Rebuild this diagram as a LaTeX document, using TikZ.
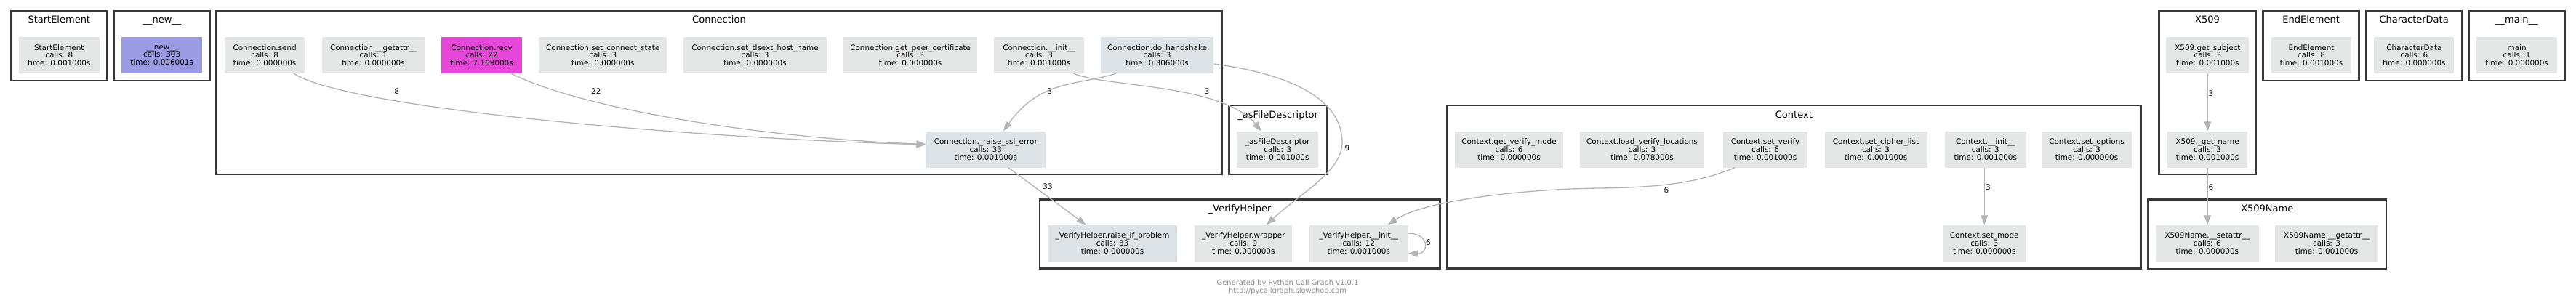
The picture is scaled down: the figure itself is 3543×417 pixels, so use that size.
\documentclass[tikz,border=0pt]{standalone}
\usepackage{fontspec}
\setmainfont{DejaVu Sans}
\usetikzlibrary{arrows.meta,calc}
\definecolor{nodegray}{HTML}{E5E6E6}
\definecolor{nodeblue}{HTML}{DDE3E6}
\definecolor{hotpink}{HTML}{E647D9}
\definecolor{lavender}{HTML}{9B9BE3}
\definecolor{clborder}{HTML}{383838}
\definecolor{edgegray}{HTML}{B3B3B3}
\definecolor{footgray}{HTML}{8C8C8C}
\newcommand\mynodefont{\fontsize{10.4}{10.8}\selectfont}
\newcommand\mytitlefont{\fontsize{13}{15}\selectfont}
\newcommand\myfootfont{\fontsize{9.9}{11.4}\selectfont}
\begin{document}
\begin{tikzpicture}[x=1pt,y=-1pt,
  fn/.style={draw=none,fill=nodegray,inner sep=0pt,align=center,font=\mynodefont,minimum height=50pt},
  cl/.style={draw=clborder,line width=2.6pt,inner sep=0pt},
  cltitle/.style={anchor=base,font=\mytitlefont,inner sep=0pt},
  edge/.style={draw=edgegray,line width=1.3pt,-{Triangle[length=13pt,width=9.5pt,fill=edgegray]}},
  elabel/.style={font=\mynodefont,inner sep=0pt}]
\useasboundingbox (0,0) rectangle (3543,417);
\fill[white] (0,0) rectangle (3543,417);

% clusters
\node[cl,minimum width=132pt,minimum height=96pt] (cstart) at (81.3,63) {};
\node[cltitle] (tstart) at (81.3,32) {StartElement};
\node[cl,minimum width=132pt,minimum height=96pt] (cnew) at (223,63) {};
\node[cltitle] (tnew) at (223,32) {\_\_new\_\_};
\node[cl,minimum width=1382.6pt,minimum height=225pt] (cconn) at (989,127.5) {};
\node[cltitle] (tconn) at (989,32) {Connection};
\node[cl,minimum width=135pt,minimum height=95pt] (casfd) at (1757.7,192.5) {};
\node[cltitle] (tasfd) at (1757.7,162) {\_asFileDescriptor};
\node[cl,minimum width=550.3pt,minimum height=95pt] (cvh) at (1705.15,321.8) {};
\node[cltitle] (tvh) at (1705.15,291.3) {\_VerifyHelper};
\node[cl,minimum width=953.7pt,minimum height=224.5pt] (cctx) at (2467.35,257.25) {};
\node[cltitle] (tctx) at (2467.35,162) {Context};
\node[cl,minimum width=133.6pt,minimum height=225pt] (cx509) at (3036,127.5) {};
\node[cltitle] (tx509) at (3036,32) {X509};
\node[cl,minimum width=132.3pt,minimum height=96pt] (cend) at (3178.55,63) {};
\node[cltitle] (tend) at (3178.55,32) {EndElement};
\node[cl,minimum width=131.8pt,minimum height=96pt] (cchar) at (3320.1,63) {};
\node[cltitle] (tchar) at (3320.1,32) {CharacterData};
\node[cl,minimum width=131.7pt,minimum height=96pt] (cmain) at (3461.35,63) {};
\node[cltitle] (tmain) at (3461.35,32) {\_\_main\_\_};
\node[cl,minimum width=327.5pt,minimum height=95.7pt] (cxn) at (3118.25,322.15) {};
\node[cltitle] (txn) at (3118.25,291.3) {X509Name};

% top row
\node[fn,minimum width=110.6pt] (startel) at (81.3,76) {StartElement\\calls: 8\\time: 0.001000s};
\node[fn,fill=lavender,minimum width=111pt] (newn) at (222.7,76) {\_\_new\_\_\\calls: 303\\time: 0.006001s};
\node[fn,minimum width=110pt] (send) at (364.2,76) {Connection.send\\calls: 8\\time: 0.000000s};
\node[fn,minimum width=140.5pt] (cgetattr) at (513.5,76) {Connection.\_\_getattr\_\_\\calls: 1\\time: 0.000000s};
\node[fn,fill=hotpink,minimum width=110.2pt] (recv) at (662.5,76) {Connection.recv\\calls: 22\\time: 7.169000s};
\node[fn,minimum width=176.2pt] (setconn) at (829.3,76) {Connection.set\_connect\_state\\calls: 3\\time: 0.000000s};
\node[fn,minimum width=196.4pt] (settls) at (1038.5,76) {Connection.set\_tlsext\_host\_name\\calls: 3\\time: 0.000000s};
\node[fn,minimum width=183.5pt] (getpeer) at (1252.2,76) {Connection.get\_peer\_certificate\\calls: 3\\time: 0.000000s};
\node[fn,minimum width=123.5pt] (cinit) at (1429,76) {Connection.\_\_init\_\_\\calls: 3\\time: 0.001000s};
\node[fn,fill=nodeblue,minimum width=155.6pt] (handshake) at (1591.6,76) {Connection.do\_handshake\\calls: 3\\time: 0.306000s};
\node[fn,minimum width=114pt] (getsubj) at (3036.4,76) {X509.get\_subject\\calls: 3\\time: 0.001000s};
\node[fn,minimum width=110pt] (endel) at (3179,76) {EndElement\\calls: 8\\time: 0.001000s};
\node[fn,minimum width=110pt] (chardata) at (3320.4,76) {CharacterData\\calls: 6\\time: 0.000000s};
\node[fn,minimum width=110.8pt] (mainn) at (3461.6,76) {main\\calls: 1\\time: 0.000000s};

% middle row
\node[fn,fill=nodeblue,minimum width=164.2pt] (raisessl) at (1355.8,205.5) {Connection.\_raise\_ssl\_error\\calls: 33\\time: 0.001000s};
\node[fn,minimum width=111.7pt] (asfd) at (1757.2,205.5) {\_asFileDescriptor\\calls: 3\\time: 0.001000s};
\node[fn,minimum width=149pt] (cgvm) at (2075.5,205.5) {Context.get\_verify\_mode\\calls: 6\\time: 0.000000s};
\node[fn,minimum width=171pt] (clvl) at (2258.5,205.5) {Context.load\_verify\_locations\\calls: 3\\time: 0.078000s};
\node[fn,minimum width=116pt] (csv) at (2428,205.5) {Context.set\_verify\\calls: 6\\time: 0.001000s};
\node[fn,minimum width=141pt] (cscl) at (2580,205.5) {Context.set\_cipher\_list\\calls: 3\\time: 0.001000s};
\node[fn,minimum width=112pt] (ctxinit) at (2730.7,205.5) {Context.\_\_init\_\_\\calls: 3\\time: 0.001000s};
\node[fn,minimum width=123.5pt] (csopt) at (2870,205.5) {Context.set\_options\\calls: 3\\time: 0.000000s};
\node[fn,minimum width=110.2pt] (getname) at (3036.1,205.5) {X509.\_get\_name\\calls: 3\\time: 0.001000s};

% bottom row
\node[fn,fill=nodeblue,minimum width=178.3pt] (rip) at (1530,334.5) {\_VerifyHelper.raise\_if\_problem\\calls: 33\\time: 0.000000s};
\node[fn,minimum width=134.2pt] (wrapper) at (1710.3,334.5) {\_VerifyHelper.wrapper\\calls: 9\\time: 0.000000s};
\node[fn,minimum width=135.6pt] (vhinit) at (1868.8,334.5) {\_VerifyHelper.\_\_init\_\_\\calls: 12\\time: 0.001000s};
\node[fn,minimum width=114.3pt] (setmode) at (2729.2,334.5) {Context.set\_mode\\calls: 3\\time: 0.000000s};
\node[fn,minimum width=141.6pt] (xnset) at (3035.8,334.5) {X509Name.\_\_setattr\_\_\\calls: 6\\time: 0.000000s};
\node[fn,minimum width=141.2pt] (xnget) at (3200,334.5) {X509Name.\_\_getattr\_\_\\calls: 3\\time: 0.001000s};

% edges
\draw[edge] ($(send.south)+(39.8,0)$) .. controls (480,150) and (950,190) .. ($(raisessl.west)+(0,-6.5)$);
\draw[edge] ($(recv.south)+(40.5,0)$) .. controls (800,150) and (1050,190) .. ($(raisessl.west)+(0,-7)$);
\draw[edge] ($(cinit.south)+(47.5,0)$) .. controls (1520,120) and (1680,115) .. ($(asfd.north)+(-22.4,0)$);
\draw[edge] ($(handshake.south)+(-56.6,0)$) .. controls (1480,118) and (1430,110) .. ($(raisessl.north)+(24.2,0)$);
\draw[edge] ($(handshake.east)+(0,12)$) .. controls (1760,100) and (1845,130) .. (1846,195) .. controls (1847,235) and (1790,265) .. ($(wrapper.north)+(31.5,0)$);
\draw[edge] ($(raisessl.south)+(31,0)$) -- ($(rip.north)+(-36.5,0)$);
\draw[edge] ($(csv.south)+(-42,0)$) .. controls (2340,250) and (2290,258) .. (2200,259) .. controls (2100,260) and (1960,275) .. ($(vhinit.north)+(40,0)$);
\draw[edge] ($(vhinit.east)+(0,-13)$) .. controls (1966,320) and (1966,350) .. ($(vhinit.east)+(0,14)$);
\draw[edge] (ctxinit.south -| setmode.north) -- (setmode.north);
\draw[edge] (getsubj.south) -- (getsubj.south |- getname.north);
\draw[edge] (getname.south) -- (getname.south |- xnset.north);

% edge labels
\node[elabel] (l1) at (545.6,126) {8};
\node[elabel] (l2) at (819.8,126) {22};
\node[elabel] (l3) at (1444,126) {3};
\node[elabel] (l4) at (1660.2,126) {3};
\node[elabel] (l5) at (1853,204) {9};
\node[elabel] (l6) at (1441,256.7) {33};
\node[elabel] (l7) at (2292,262) {6};
\node[elabel,anchor=west] (l8) at (1961,334) {6};
\node[elabel,anchor=west] (l9) at (2731,257.3) {3};
\node[elabel,anchor=west] (l10) at (3037.5,128.3) {3};
\node[elabel,anchor=west] (l11) at (3037.5,257.3) {6};

% footer
\node[font=\myfootfont,text=footgray,align=center,inner sep=0pt] (footer) at (1771,395) {Generated by Python Call Graph v1.0.1\\http://pycallgraph.slowchop.com};
\end{tikzpicture}
\end{document}
